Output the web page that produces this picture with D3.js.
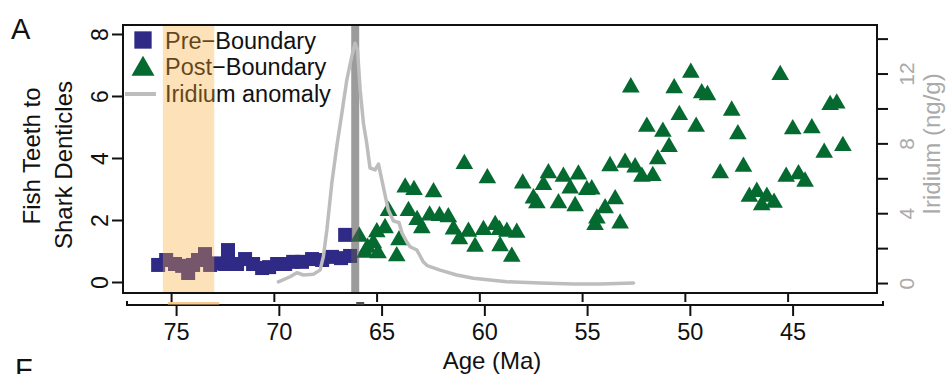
<!DOCTYPE html>
<html>
<head>
<meta charset="utf-8">
<script src="https://cdn.jsdelivr.net/npm/d3@7"></script>
<style>
  body { margin: 0; background: #fff; }
  svg text { font-family: "Liberation Sans", Arial, sans-serif; }
</style>
</head>
<body>
<div id="chart"></div>
<script>
// pre-boundary samples (age in Ma, fish teeth : shark denticles)
var preAge = [75.63, 75.24, 74.81, 74.46, 74.17, 73.93, 73.69, 73.35, 73.10, 72.76, 72.37, 72.23, 71.79, 71.40,
  71.01, 70.57, 70.23, 69.84, 69.45, 69.06, 68.63, 68.14, 67.65, 67.17, 66.73, 66.53, 66.29];
var preRatio = [0.55, 0.71, 0.58, 0.52, 0.29, 0.55, 0.71, 0.90, 0.55, 0.60, 0.58, 1.03, 0.58, 0.74,
  0.58, 0.45, 0.48, 0.58, 0.58, 0.65, 0.65, 0.74, 0.71, 0.81, 0.77, 1.52, 0.84];

// post-boundary samples
var postAge = [52.63, 49.71, 50.52, 49.18, 48.90, 45.36, 47.72, 50.27, 51.85, 51.07, 49.45, 47.42, 42.93, 42.61,
  44.75, 43.82, 50.77, 42.31, 43.22, 51.32, 53.64, 52.91, 52.42, 52.09, 51.56, 47.15, 48.28, 45.07, 44.47, 44.15,
  46.86, 46.50, 46.01, 46.26, 45.66, 54.53, 53.39, 53.88, 54.28, 53.15, 54.37,
  60.73, 59.61, 57.89, 56.64, 55.91, 55.18, 56.88, 55.58, 54.77, 57.37, 57.20, 56.15, 55.34,
  63.61, 63.18, 62.23, 64.42, 63.45, 63.03, 62.42, 61.94, 61.51, 62.80, 61.26, 60.53, 60.97, 60.21, 59.80,
  59.23, 59.02, 58.66, 58.18, 58.99, 58.42,
  64.59, 64.99, 63.91, 65.84, 65.44, 64.93, 64.02, 65.56, 65.16];
var postRatio = [6.28, 6.75, 6.25, 6.09, 6.03, 6.68, 5.53, 5.39, 5.01, 4.85, 5.01, 4.77, 5.71, 5.76,
  4.93, 4.96, 4.36, 4.39, 4.17, 3.96, 3.74, 3.85, 3.70, 3.40, 3.42, 3.72, 3.51, 3.40, 3.48, 3.24,
  2.75, 2.91, 2.75, 2.48, 2.56, 2.99, 2.67, 2.38, 2.05, 1.89, 1.84,
  3.81, 3.35, 3.18, 3.51, 3.40, 3.47, 3.13, 3.02, 2.97, 2.70, 2.54, 2.54, 2.45,
  3.05, 2.97, 2.90, 2.29, 2.29, 2.00, 2.15, 2.13, 2.09, 1.74, 1.70, 1.62, 1.38, 1.14, 1.68,
  1.84, 1.68, 1.62, 1.59, 1.16, 0.82,
  1.74, 1.61, 1.35, 1.46, 1.11, 0.93, 0.83, 0.95, 1.25];

// iridium anomaly (ng/g)
var irAge = [69.78, 69.21, 68.88, 68.56, 68.08, 67.75, 67.59, 67.42, 67.18, 66.94, 66.69, 66.45, 66.21, 66.05,
  65.93, 65.80, 65.64, 65.48, 65.32, 65.07, 64.91, 64.67, 64.43, 64.18, 63.91, 63.76, 63.53, 63.37, 63.04,
  62.72, 62.54, 61.91, 61.10, 60.29, 58.66, 57.04, 55.42, 54.12, 52.50];
var irValue = [0.07, 0.36, 0.59, 0.46, 0.50, 0.74, 1.51, 3.04, 5.71, 7.81, 9.72, 11.63, 12.97, 13.74,
  13.35, 11.06, 9.15, 8.01, 6.59, 6.48, 6.82, 5.50, 4.18, 3.55, 3.47, 2.85, 2.35, 2.08, 1.89,
  1.20, 1.00, 0.74, 0.46, 0.27, 0.07, 0.0, -0.05, -0.05, 0.0];

var bandAge = [75.4, 72.9];   // shaded interval
var boundaryAge = 66.04;      // K-Pg boundary
var ageTicks = [75, 70, 65, 60, 55, 50, 45];
var ratioTicks = [0, 2, 4, 6, 8];
var irTicks = [0, 2, 4, 6, 8, 10, 12, 14];
var irLabels = [0, 4, 8, 12];

var width = 951, height = 374;
// plot box edges (window.top is read-only, so no "top" here)
var plotL = 123, plotR = 877, plotT = 25, plotB = 293;

var svg = d3.select('#chart')
  .append('svg')
  .attr('width', width)
  .attr('height', height);

var x = d3.scaleLinear().domain([77.34, 40.65]).range([plotL, plotR]);
var x2 = d3.scaleLinear().domain([77.34, 40.65]).range([plotL + 5, plotR + 5]);
var y = d3.scaleLinear().domain([-0.355, 8.29]).range([plotB, plotT]);
var yIr = d3.scaleLinear().domain([-0.57, 14.78]).range([plotB, plotT]);

var navy = '#2e2a86', green = '#046a30', irGrey = '#bdbdbd';

// legend
var lg = svg.append('g');
lg.append('path')
  .attr('d', d3.symbol(d3.symbolSquare, 300)())
  .attr('transform', 'translate(143,40)')
  .attr('fill', navy);
lg.append('path')
  .attr('d', d3.symbol(d3.symbolTriangle, 230)())
  .attr('transform', 'translate(143,69)')
  .attr('fill', green);
lg.append('line')
  .attr('x1', 125).attr('x2', 156).attr('y1', 94).attr('y2', 94)
  .attr('stroke', irGrey).attr('stroke-width', 4);
var legendText = ['Pre\u2212Boundary', 'Post\u2212Boundary', 'Iridium anomaly'];
lg.selectAll('text')
  .data(legendText)
  .enter()
  .append('text')
  .attr('x', 165)
  .attr('y', function(d, i) { return 49 + i * 26.3; })
  .attr('font-size', 23.5)
  .attr('fill', '#111')
  .text(function(d) { return d; });

// markers
svg.append('g').selectAll('path')
  .data(preAge)
  .enter()
  .append('path')
  .attr('d', d3.symbol(d3.symbolSquare, 196)())
  .attr('transform', function(d, i) { return 'translate(' + x(d) + ',' + y(preRatio[i]) + ')'; })
  .attr('fill', navy);

svg.append('g').selectAll('path')
  .data(postAge)
  .enter()
  .append('path')
  .attr('d', d3.symbol(d3.symbolTriangle, 135)())
  .attr('transform', function(d, i) { return 'translate(' + x(d) + ',' + y(postRatio[i]) + ')'; })
  .attr('fill', green);

// shaded interval over the points
svg.append('rect')
  .attr('x', x(bandAge[0]))
  .attr('width', x(bandAge[1]) - x(bandAge[0]))
  .attr('y', plotT)
  .attr('height', plotB - plotT)
  .attr('fill', 'rgb(249,169,55)')
  .attr('opacity', 0.35);

// boundary bar
svg.append('rect')
  .attr('x', x(boundaryAge) - 4)
  .attr('width', 8)
  .attr('y', plotT)
  .attr('height', plotB - plotT)
  .attr('fill', '#585858')
  .attr('opacity', 0.6);

// iridium line
var irLine = d3.line()
  .x(function(d) { return x(d); })
  .y(function(d, i) { return yIr(irValue[i]); });
svg.append('path')
  .datum(irAge)
  .attr('d', irLine)
  .attr('fill', 'none')
  .attr('stroke', irGrey)
  .attr('stroke-width', 3.5)
  .attr('stroke-linejoin', 'round')
  .attr('stroke-linecap', 'round');

// frame
svg.append('rect')
  .attr('x', plotL).attr('y', plotT)
  .attr('width', plotR - plotL).attr('height', plotB - plotT)
  .attr('fill', 'none').attr('stroke', '#111').attr('stroke-width', 2);

// left axis
var gl = svg.append('g')
  .attr('transform', 'translate(' + plotL + ',0)')
  .call(d3.axisLeft(y).tickValues(ratioTicks).tickSize(11).tickSizeOuter(0));
gl.select('.domain').remove();
gl.selectAll('line').attr('stroke', '#111').attr('stroke-width', 2);
gl.selectAll('text')
  .attr('x', 0).attr('y', -15).attr('dy', 0)
  .attr('transform', 'rotate(-90)')
  .attr('text-anchor', 'middle')
  .attr('font-size', 23)
  .attr('fill', '#111');

// right axis
var gr = svg.append('g')
  .attr('transform', 'translate(' + plotR + ',0)')
  .call(d3.axisRight(yIr).tickValues(irTicks).tickSize(11).tickSizeOuter(0)
    .tickFormat(function(d) { return irLabels.indexOf(d) >= 0 ? d : ''; }));
gr.select('.domain').remove();
gr.selectAll('line').attr('stroke', '#111').attr('stroke-width', 2);
gr.selectAll('text')
  .attr('x', 0).attr('y', 37).attr('dy', 0)
  .attr('transform', 'rotate(-90)')
  .attr('text-anchor', 'middle')
  .attr('font-size', 21)
  .attr('fill', '#aaa');

// inner bottom ticks (no labels)
var gb = svg.append('g')
  .attr('transform', 'translate(0,' + plotB + ')')
  .call(d3.axisBottom(x).tickValues(ageTicks).tickSize(9).tickFormat(''));
gb.select('.domain').remove();
gb.selectAll('line').attr('stroke', '#111').attr('stroke-width', 2);

// lower age axis
var axisY = 305;
svg.append('path')
  .attr('d', 'M127,' + (axisY - 4) + 'V' + axisY + 'H883V' + (axisY - 4))
  .attr('fill', 'none').attr('stroke', '#111').attr('stroke-width', 2);
var ga = svg.append('g')
  .attr('transform', 'translate(0,' + axisY + ')')
  .call(d3.axisBottom(x2).tickValues(ageTicks).tickSize(11).tickSizeOuter(0));
ga.select('.domain').remove();
ga.selectAll('line').attr('stroke', '#111').attr('stroke-width', 2);
ga.selectAll('text')
  .attr('y', 35).attr('dy', 0)
  .attr('font-size', 23.5)
  .attr('fill', '#111');

svg.append('rect')
  .attr('x', x2(bandAge[0])).attr('width', x2(bandAge[1]) - x2(bandAge[0]))
  .attr('y', axisY - 3).attr('height', 2.5)
  .attr('fill', '#f7c98c');
svg.append('rect')
  .attr('x', x2(boundaryAge) - 4).attr('width', 8)
  .attr('y', axisY - 3).attr('height', 2.5)
  .attr('fill', '#555');

// titles
svg.append('text')
  .attr('x', 492).attr('y', 369)
  .attr('text-anchor', 'middle')
  .attr('font-size', 24)
  .attr('fill', '#111')
  .text('Age (Ma)');

svg.append('text')
  .attr('transform', 'translate(40,156) rotate(-90)')
  .attr('text-anchor', 'middle')
  .attr('font-size', 24)
  .attr('fill', '#111')
  .text('Fish Teeth to');
svg.append('text')
  .attr('transform', 'translate(72,165) rotate(-90)')
  .attr('text-anchor', 'middle')
  .attr('font-size', 24)
  .attr('fill', '#111')
  .text('Shark Denticles');

svg.append('text')
  .attr('transform', 'translate(940,144) rotate(-90)')
  .attr('text-anchor', 'middle')
  .attr('font-size', 24)
  .attr('fill', '#aaa')
  .text('Iridium (ng/g)');

// panel letters
svg.append('text').attr('x', 11).attr('y', 39).attr('font-size', 29).attr('fill', '#111').text('A');
svg.append('text').attr('x', 15).attr('y', 379).attr('font-size', 29).attr('fill', '#111').text('F');
</script>
</body>
</html>
